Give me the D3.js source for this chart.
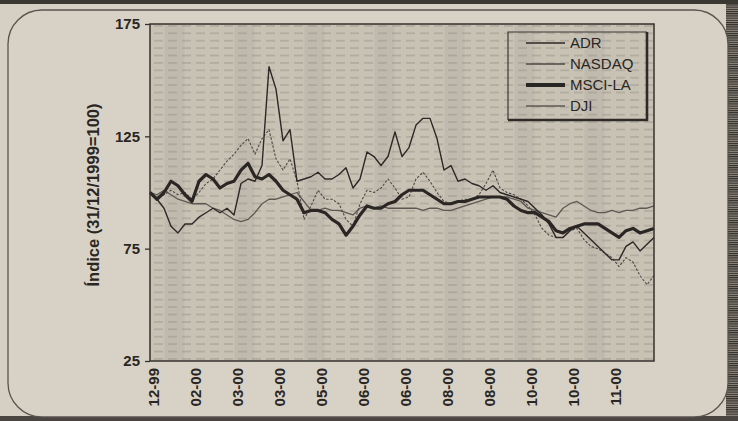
<!DOCTYPE html>
<html>
<head>
<meta charset="utf-8">
<script src="https://cdn.jsdelivr.net/npm/d3@7"></script>
<style>
  html, body { margin: 0; padding: 0; background: #d6d0c4; }
  svg { display: block; }
</style>
</head>
<body>
<svg id="chart" width="738" height="421"></svg>
<script>
// ---------------- DATA ----------------
const xLabels = ["12-99","02-00","03-00","03-00","05-00","06-00","06-00","08-00","08-00","10-00","10-00","11-00"];
const stepsPerLabel = 6;       // data points between consecutive axis labels
const yTicks = [25, 75, 125, 175];
const seriesNames = ["ADR", "NASDAQ", "MSCI-LA", "DJI"];

const adr = [100,97,93,85,82,86,86,89,91,93,
             91,93,90,104,106,105,112,156,146,123,
             128,105,106,107,109,106,106,108,111,102,
             106,118,116,112,116,127,116,120,130,133,
             133,124,110,112,105,106,104,103,101,103,
             100,99,98,97,96,93,90,86,80,80,
             83,85,82,79,76,73,70,70,76,78,
             74,77,80];
const nasdaq = [100,97,99,101,99,100,97,100,104,106,
                110,114,117,121,124,117,124,128,115,110,
                115,105,88,94,101,97,97,95,88,85,
                95,101,100,102,106,102,97,98,106,109,
                105,100,96,95,96,97,97,99,104,110,
                102,100,99,97,94,90,84,81,80,80,
                83,84,79,76,75,73,71,67,71,69,
                63,59,63];
const mscila = [100,97,100,105,103,99,96,105,108,106,
                102,104,105,110,113,107,106,108,105,101,
                99,97,91,92,92,91,88,86,81,85,
                90,94,93,93,95,96,99,101,101,101,
                99,97,95,95,96,96,97,98,98,98,
                98,97,94,92,91,91,89,87,83,82,
                84,85,86,86,86,84,82,80,83,84,
                82,83,84];
const dji = [100,99,101,99,97,96,95,95,95,93,
             92,90,88,87,88,91,95,97,97,98,
             99,100,96,92,92,93,92,92,91,90,
             93,94,93,94,93,93,93,93,93,92,
             93,93,92,92,93,94,95,96,97,98,
             98,98,97,96,93,92,91,90,89,93,
             95,96,94,92,91,91,92,91,92,92,
             93,93,94];

// ---------------- LAYOUT ----------------
const svg = d3.select("#chart");
const W = 738, H = 421;
const plot = {left: 150, top: 24, right: 654, bottom: 361};
const FONT = "'Liberation Sans', Arial, Helvetica, sans-serif";

const x = d3.scaleLinear().domain([0, adr.length - 1]).range([plot.left, plot.right]);
const y = d3.scaleLinear().domain([25, 175]).range([plot.bottom, plot.top]);

// ---------------- PAPER / FRAME ----------------
const defs = svg.append("defs");
const hp = defs.append("pattern").attr("id", "hatch").attr("patternUnits", "userSpaceOnUse")
  .attr("width", 4).attr("height", 2.2);
hp.append("rect").attr("width", 4).attr("height", 2.2).attr("fill", "#8f897f");
hp.append("rect").attr("width", 4).attr("height", 1.1).attr("fill", "#2f2b28");

const dp = defs.append("pattern").attr("id", "dash").attr("patternUnits", "userSpaceOnUse")
  .attr("width", 14).attr("height", 7.4);
dp.append("line").attr("x1", 0).attr("x2", 9).attr("y1", 3.7).attr("y2", 3.7)
  .attr("stroke", "#8a857a").attr("stroke-width", 1.1).attr("opacity", 0.6);

svg.append("rect").attr("width", W).attr("height", H).attr("fill", "#d6d0c4");
svg.append("rect").attr("x", 726).attr("y", 0).attr("width", 12).attr("height", H).attr("fill", "url(#hatch)");
svg.append("rect").attr("x", 0).attr("y", 0).attr("width", W).attr("height", 4).attr("fill", "#3b3733");
svg.append("rect").attr("x", 0).attr("y", 416).attr("width", W).attr("height", 5).attr("fill", "#4a4540");
svg.append("rect").attr("x", 8).attr("y", 10).attr("width", 720).attr("height", 407).attr("rx", 34)
  .attr("fill", "#d8d2c6").attr("stroke", "#58534d").attr("stroke-width", 1.3);

// ---------------- PLOT BACKGROUND ----------------
const pg = svg.append("g");
pg.append("rect").attr("x", plot.left).attr("y", plot.top)
  .attr("width", plot.right - plot.left).attr("height", plot.bottom - plot.top)
  .attr("fill", "#c8c2b5");
// darker vertical halftone bands
const bandIdx = d3.range(3.5, adr.length - 1, 10);
pg.selectAll("rect.band").data(bandIdx).join("rect").attr("class", "band")
  .attr("x", d => x(d) - 10).attr("y", plot.top)
  .attr("width", 20).attr("height", plot.bottom - plot.top)
  .attr("fill", "#bab4a7").attr("opacity", 0.55);
pg.append("rect").attr("x", plot.left).attr("y", plot.top)
  .attr("width", plot.right - plot.left).attr("height", plot.bottom - plot.top)
  .attr("fill", "url(#dash)");

// ---------------- AXES ----------------
const yAxis = svg.append("g").attr("transform", `translate(${plot.left},0)`)
  .call(d3.axisLeft(y).tickValues(yTicks).tickSize(5).tickPadding(5).tickFormat(d3.format("d")));
yAxis.select(".domain").remove();
yAxis.selectAll("line").attr("stroke", "#333").attr("stroke-width", 1.3);
yAxis.selectAll("text").attr("font-family", FONT).attr("font-size", 15).attr("font-weight", "bold")
  .attr("fill", "#2a2623");

const labelIdx = xLabels.map((d, i) => 0.5 + i * stepsPerLabel);
svg.append("g").selectAll("text").data(xLabels).join("text")
  .attr("transform", (d, i) => `translate(${x(labelIdx[i])},${plot.bottom + 7}) rotate(-90)`)
  .attr("text-anchor", "end").attr("dy", "0.36em")
  .attr("font-family", FONT).attr("font-size", 15).attr("font-weight", "bold").attr("fill", "#2a2623")
  .text(d => d);

svg.append("text")
  .attr("transform", `translate(99,195) rotate(-90)`)
  .attr("text-anchor", "middle")
  .attr("font-family", FONT).attr("font-size", 16.5).attr("font-weight", "bold").attr("fill", "#2a2623")
  .text("Índice (31/12/1999=100)");

// ---------------- LINES ----------------
const styles = {
  "ADR":     {data: adr,    color: "#2b2826", width: 1.4, dash: null},
  "NASDAQ":  {data: nasdaq, color: "#4d4944", width: 1.1, dash: "2.5,1.6"},
  "MSCI-LA": {data: mscila, color: "#2a2624", width: 3.2, dash: null},
  "DJI":     {data: dji,    color: "#5d5852", width: 1.3, dash: null}
};
const line = d3.line().x((d, i) => x(i)).y(d => y(d));
const drawOrder = ["DJI", "NASDAQ", "ADR", "MSCI-LA"];
svg.append("g").selectAll("path").data(drawOrder).join("path")
  .attr("d", k => line(styles[k].data))
  .attr("fill", "none")
  .attr("stroke", k => styles[k].color)
  .attr("stroke-width", k => styles[k].width)
  .attr("stroke-dasharray", k => styles[k].dash)
  .attr("stroke-linejoin", "round");

// plot border
svg.append("rect").attr("x", plot.left).attr("y", plot.top)
  .attr("width", plot.right - plot.left).attr("height", plot.bottom - plot.top)
  .attr("fill", "none").attr("stroke", "#34302d").attr("stroke-width", 1.5);

// ---------------- LEGEND ----------------
const lg = svg.append("g");
const L = {x0: 508, y0: 32, x1: 647, y1: 120};
lg.append("path").attr("d", `M${L.x0},${L.y1} V${L.y0} H${L.x1}`)
  .attr("fill", "none").attr("stroke", "#3a3633").attr("stroke-width", 1.2);
lg.append("path").attr("d", `M${L.x1},${L.y0} V${L.y1} H${L.x0}`)
  .attr("fill", "none").attr("stroke", "#2e2a27").attr("stroke-width", 2.6);
const rowY = d3.scalePoint().domain(seriesNames).range([43, 106]);
const items = lg.selectAll("g.item").data(seriesNames).join("g").attr("class", "item")
  .attr("transform", d => `translate(0,${rowY(d)})`);
items.append("line").attr("x1", 526).attr("x2", 565)
  .attr("stroke", d => styles[d].color)
  .attr("stroke-width", d => d === "MSCI-LA" ? 4 : styles[d].width + 0.3);
items.append("text").attr("x", 570).attr("dy", "0.36em")
  .attr("font-family", FONT).attr("font-size", 15).attr("fill", "#2a2623")
  .text(d => d);
</script>
</body>
</html>
